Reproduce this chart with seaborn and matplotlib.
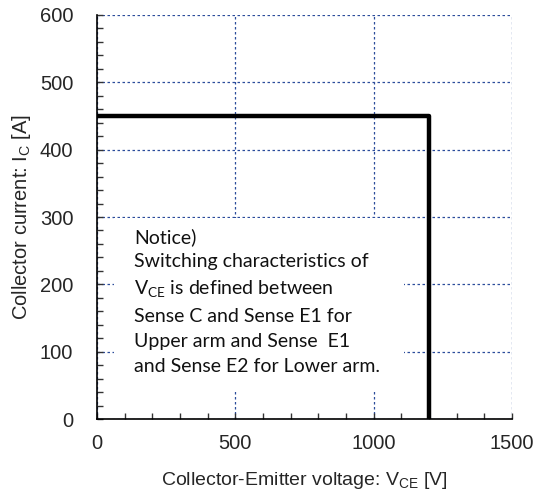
import matplotlib
matplotlib.use("Agg")
import matplotlib.pyplot as plt
from matplotlib.patches import Rectangle
from matplotlib.ticker import MultipleLocator
import seaborn as sns
import pandas as pd

# RBSOA boundary
vce = [0, 1200, 1200]
ic = [450, 450, 0]

x_ticks = [0, 500, 1000, 1500]
y_ticks = [0, 100, 200, 300, 400, 500, 600]

notice_lines = [
    "Notice)",
    "Switching characteristics of",
    "V$_\\mathregular{CE}$ is defined between",
    "Sense C and Sense E1 for",
    "Upper arm and Sense  E1",
    "and Sense E2 for Lower arm.",
]

sns.set_theme(style="white")
plt.rcParams["font.family"] = ["Liberation Sans", "DejaVu Sans"]

fig = plt.figure(figsize=(5.37, 4.95), dpi=100)
ax = fig.add_axes([0.1806, 0.1535, 0.7728, 0.8162])

df = pd.DataFrame({"vce": vce, "ic": ic})
sns.lineplot(data=df, x="vce", y="ic", sort=False, estimator=None, color="black",
             linewidth=3.2, ax=ax, zorder=4)

ax.set_xlim(0, 1500)
ax.set_ylim(0, 600)
ax.set_xticks(x_ticks)
ax.set_yticks(y_ticks)
ax.xaxis.set_minor_locator(MultipleLocator(100))
ax.yaxis.set_minor_locator(MultipleLocator(20))
ax.tick_params(which="both", direction="in", length=4, width=1, color="#333333",
               left=True, bottom=True, top=False, right=False)
ax.tick_params(axis="x", which="major", labelsize=14.5, pad=11)
ax.tick_params(axis="y", which="major", labelsize=14.5, pad=17)

ax.grid(True, which="major", color="#2b4c9b", linestyle=(0, (2, 2)), linewidth=0.9)
ax.set_axisbelow(True)
for side in ["top", "right"]:
    ax.spines[side].set_visible(False)
for side in ["left", "bottom"]:
    ax.spines[side].set_color("black")
    ax.spines[side].set_linewidth(1.2)

ax.set_xlabel("Collector-Emitter voltage: V$_\\mathregular{CE}$ [V]", fontsize=14)
ax.xaxis.set_label_coords(0.5, -0.125)
ax.set_ylabel("Collector current: I$_\\mathregular{C}$ [A]", fontsize=14.5)
ax.yaxis.set_label_coords(-0.155, 0.5)

# white notice box covering the grid
ax.add_patch(Rectangle((61, 40), 1049, 258, facecolor="white", edgecolor="none", zorder=2))
ax.text(135, 284, "\n".join(notice_lines), fontsize=14, family=["Lato", "DejaVu Sans"],
        va="top", ha="left", linespacing=1.55, color="#111111", zorder=3)

fig.savefig("out.png", dpi=100, facecolor="white")
